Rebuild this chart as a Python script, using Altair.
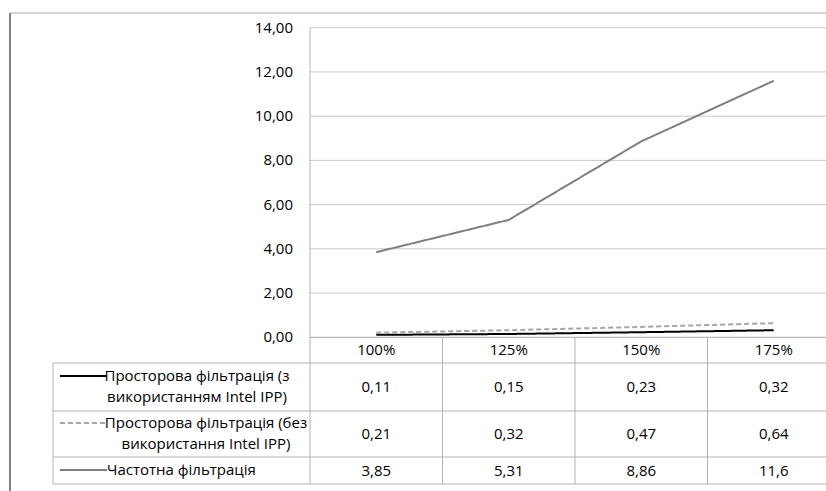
import altair as alt
import pandas as pd

# ---- data -------------------------------------------------------------
categories = ["100%", "125%", "150%", "175%"]
series = [
    "Просторова фільтрація (з\nвикористанням Intel IPP)",
    "Просторова фільтрація (без\nвикористання Intel IPP)",
    "Частотна фільтрація",
]
spatial_ipp = [0.11, 0.15, 0.23, 0.32]
spatial_no_ipp = [0.21, 0.32, 0.47, 0.64]
frequency = [3.85, 5.31, 8.86, 11.6]
y_ticks = [0, 2, 4, 6, 8, 10, 12, 14]

series_values = [spatial_ipp, spatial_no_ipp, frequency]
series_colors = ["#000000", "#a6a6a6", "#7f7f7f"]
series_dash = [[1, 0], [5, 3], [1, 0]]

FONT = "Open Sans"
FS = 15
W, H = 826, 491

# ---- long table for the lines ----------------------------------------
rows = []
for s, vals in zip(series, series_values):
    for i, (c, v) in enumerate(zip(categories, vals)):
        rows.append({"series": s, "cat": c, "idx": i, "value": v,
                     "label": str(v).replace(".", ",")})
df = pd.DataFrame(rows)

# x: category index, one table column of 132.5 px starting at the plot edge
col_w = 132.5
plot_left = 310
x_scale = alt.Scale(domain=[-0.5 - plot_left / col_w, -0.5 + (W - plot_left) / col_w],
                    range=[0, W], nice=False, zero=False)
# y: 0 sits on the axis line, 14 on the top gridline
y0_px, y14_px = 337.3, 27.7
ppu = (y0_px - y14_px) / 14
y_scale = alt.Scale(domain=[-(H - y0_px) / ppu, y0_px / ppu], range=[H, 0],
                    nice=False, zero=False)

X = alt.X("idx:Q", scale=x_scale, axis=None)
color = alt.Color("series:N", scale=alt.Scale(domain=series, range=series_colors), legend=None)
dash = alt.StrokeDash("series:N", scale=alt.Scale(domain=series, range=series_dash), legend=None)

blank = alt.Data(values=[{}])


def rule(x1, y1, x2, y2, col="#bfbfbf", w=1.0):
    return alt.Chart(blank).mark_rule(color=col, strokeWidth=w).encode(
        x=alt.value(x1), x2=alt.value(x2), y=alt.value(y1), y2=alt.value(y2))


layers = []

# outer frame (top and left edges)
layers.append(rule(10, 13, W, 13, "#d4d4d4", 2))
layers.append(rule(10, 13, 10, H, "#808080", 2))

# horizontal gridlines
grid_df = pd.DataFrame({"v": y_ticks[1:]})
layers.append(alt.Chart(grid_df).mark_rule(color="#c8c8c8", strokeWidth=1).encode(
    y=alt.Y("v:Q", scale=y_scale, axis=None),
    x=alt.value(plot_left), x2=alt.value(W)))

# data table grid
table_rows = [363, 411, 457, 484]
for ty in table_rows:
    layers.append(rule(53, ty, W, ty, "#b3b3b3", 1))
layers.append(rule(plot_left, y0_px, W, y0_px, "#a6a6a6", 1))
layers.append(rule(53, 363, 53, 484, "#b3b3b3", 1))
layers.append(rule(plot_left, y14_px, plot_left, 484, "#b3b3b3", 1))
for k in range(1, 4):
    xb = plot_left + k * col_w
    layers.append(rule(xb, y0_px, xb, 484, "#b3b3b3", 1))

# y-axis labels
ylab_df = pd.DataFrame({"v": y_ticks,
                        "t": [f"{v:.2f}".replace(".", ",") for v in y_ticks]})
layers.append(alt.Chart(ylab_df).mark_text(
    align="right", baseline="middle", font=FONT, fontSize=FS, color="#000000").encode(
    y=alt.Y("v:Q", scale=y_scale, axis=None), x=alt.value(293), text="t:N"))

# series lines
layers.append(alt.Chart(df).mark_line(strokeWidth=2).encode(
    x=X, y=alt.Y("value:Q", scale=y_scale, axis=None),
    color=color, strokeDash=dash, detail="series:N"))

# category header row
cat_df = pd.DataFrame({"cat": categories, "idx": range(len(categories))})
layers.append(alt.Chart(cat_df).mark_text(
    baseline="middle", font=FONT, fontSize=FS, color="#000000").encode(
    x=X, y=alt.value(350), text="cat:N"))

# table values, one row per series
row_centers = [387, 434, 471]
for s, yc in zip(series, row_centers):
    layers.append(alt.Chart(df[df["series"] == s]).mark_text(
        baseline="middle", font=FONT, fontSize=FS, color="#000000").encode(
        x=X, y=alt.value(yc), text="label:N"))

# legend keys in the first table column
key_y = [376, 423, 470]
key_df = pd.DataFrame({"series": series})
for s, ky in zip(series, key_y):
    layers.append(alt.Chart(key_df[key_df["series"] == s]).mark_rule(strokeWidth=2).encode(
        x=alt.value(60), x2=alt.value(107), y=alt.value(ky),
        color=color, strokeDash=dash))

# legend labels (y is the first line's centre)
label_pos = [(197, 376, "center"), (206, 423, "center"), (107, 470, "left")]
for s, (lx, ly, al) in zip(series, label_pos):
    layers.append(alt.Chart(key_df[key_df["series"] == s]).mark_text(
        align=al, baseline="middle", font=FONT, fontSize=FS, color="#000000",
        lineBreak="\n", lineHeight=21).encode(
        x=alt.value(lx), y=alt.value(ly), text="series:N"))

chart = alt.layer(*layers).properties(
    width=W, height=H, padding=0, autosize=alt.AutoSizeParams(type="none"),
    background="#ffffff",
).configure_view(stroke=None)

chart.save("out.html", embed_options={"renderer": "svg", "actions": False})
